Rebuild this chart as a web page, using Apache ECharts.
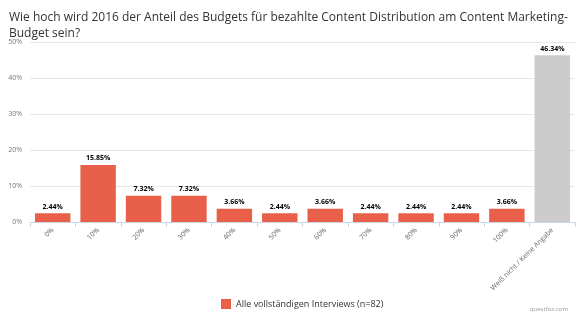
<!DOCTYPE html>
<html><head><meta charset="utf-8">
<script src="https://cdn.jsdelivr.net/npm/echarts@6/dist/echarts.min.js"></script>
<style>html,body{margin:0;padding:0;background:#fff}#c{width:580px;height:322px}</style>
</head><body><div id="c"></div>
<script>
const categories = ['0%','10%','20%','30%','40%','50%','60%','70%','80%','90%','100%','Weiß nicht / Keine Angabe'];
const values = [2.44,15.85,7.32,7.32,3.66,2.44,3.66,2.44,2.44,2.44,3.66,46.34];
const highlightIndex = [11];
const yTicks = [0,10,20,30,40,50];
const seriesName = 'Alle vollständigen Interviews (n=82)';
const titleText = 'Wie hoch wird 2016 der Anteil des Budgets für bezahlte Content Distribution am Content Marketing-\nBudget sein?';
const credit = 'questfox.com';

const RED = '#e8604a', GRAY = '#cccccc';
const chart = echarts.init(document.getElementById('c'), null, {renderer:'canvas'});
chart.setOption({
  animation:false,
  textStyle:{fontFamily:'Open Sans'},
  title:[{
    text:titleText, left:4, top:5,
    textStyle:{fontSize:12, fontWeight:'normal', color:'#333', lineHeight:16, fontFamily:'Open Sans'}
  },{
    text:credit, right:7, bottom:5,
    textStyle:{fontSize:6, fontWeight:'normal', color:'#999', fontFamily:'Open Sans'}
  }],
  legend:{
    bottom:8, left:216, itemWidth:10, itemHeight:10, itemGap:5,
    icon:'rect',
    textStyle:{fontSize:9, color:'#333', fontFamily:'Open Sans'},
    data:[seriesName]
  },
  grid:{left:30, right:5, top:42, bottom:100, containLabel:false},
  xAxis:{
    type:'category', data:categories,
    axisLine:{lineStyle:{color:'#ccd6eb'}},
    axisTick:{show:true, length:5, lineStyle:{color:'#ccd6eb'}},
    axisLabel:{rotate:45, fontSize:7, color:'#666', interval:0, margin:7, fontFamily:'Open Sans'}
  },
  yAxis:{
    type:'value', min:yTicks[0], max:yTicks[yTicks.length-1], interval:10,
    axisLine:{show:false}, axisTick:{show:false},
    splitLine:{lineStyle:{color:'#e6e6e6'}},
    axisLabel:{formatter:'{value}%', fontSize:7, color:'#777', margin:8, fontFamily:'Open Sans'}
  },
  series:[{
    name:seriesName, type:'bar', color:RED, barCategoryGap:'22%',
    data:values.map((v,i)=>({value:v, itemStyle:{color: highlightIndex.includes(i)?GRAY:RED}})),
    label:{show:true, position:'top', distance:3, formatter:p=>p.value.toFixed(2)+'%',
      fontSize:7, fontWeight:'bold', color:'#000', fontFamily:'Open Sans'}
  }]
});
</script></body></html>
